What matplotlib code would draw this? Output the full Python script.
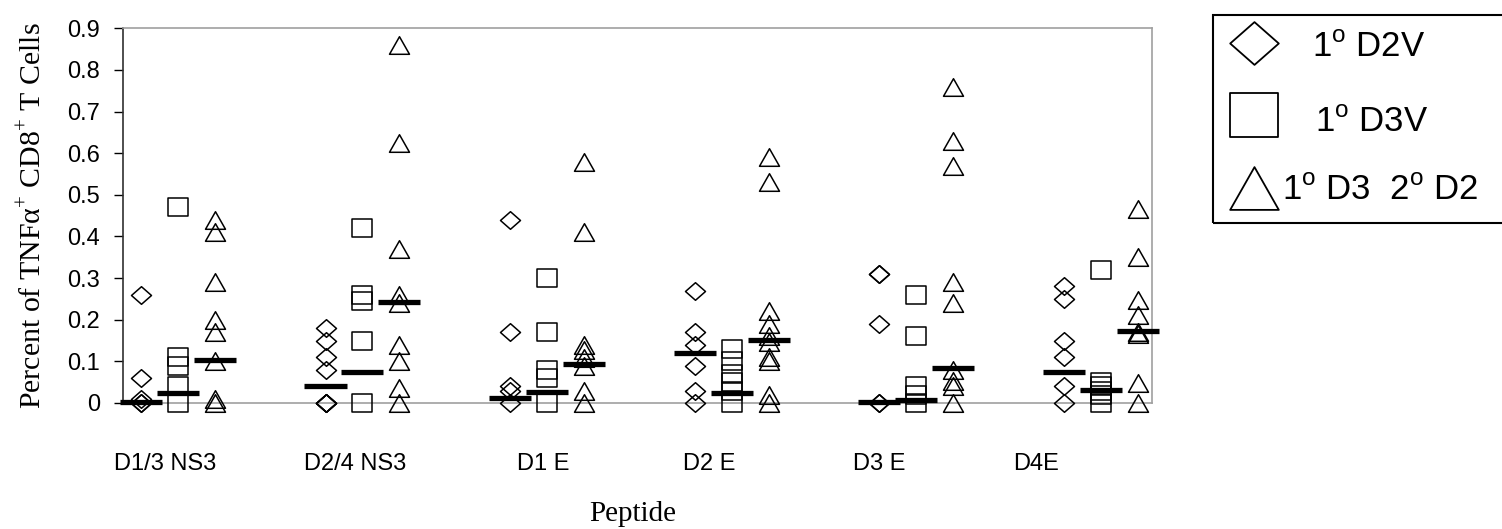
import numpy as np
import matplotlib.pyplot as plt
from matplotlib.path import Path
from matplotlib.lines import Line2D
from matplotlib.patches import Rectangle

plt.rcParams['mathtext.fontset'] = 'custom'
plt.rcParams['mathtext.rm'] = 'Liberation Serif'
plt.rcParams['mathtext.sf'] = 'Liberation Sans'

# peptides on the x axis
peptides = ['D1/3 NS3', 'D2/4 NS3', 'D1 E', 'D2 E', 'D3 E', 'D4E']

# percent TNFa+ CD8+ T cells per mouse, one list per peptide
d2v = [[0.26, 0.06, 0.01, 0.0, 0.0],
       [0.18, 0.15, 0.11, 0.08, 0.0, 0.0, 0.0, 0.0],
       [0.44, 0.17, 0.04, 0.03, 0.0],
       [0.27, 0.17, 0.14, 0.09, 0.03, 0.0],
       [0.31, 0.31, 0.19, 0.0, 0.0],
       [0.28, 0.25, 0.15, 0.11, 0.04, 0.0]]
d3v = [[0.47, 0.11, 0.09, 0.04, 0.0],
       [0.42, 0.26, 0.245, 0.15, 0.0],
       [0.30, 0.17, 0.08, 0.06, 0.0],
       [0.13, 0.10, 0.07, 0.05, 0.03, 0.0],
       [0.26, 0.16, 0.04, 0.02, 0.0],
       [0.32, 0.05, 0.04, 0.03, 0.02, 0.0]]
d3d2 = [[0.44, 0.41, 0.29, 0.20, 0.17, 0.10, 0.01, 0.0],
        [0.86, 0.625, 0.37, 0.26, 0.24, 0.14, 0.10, 0.035, 0.0],
        [0.58, 0.41, 0.14, 0.127, 0.107, 0.09, 0.03, 0.0],
        [0.59, 0.53, 0.22, 0.19, 0.16, 0.147, 0.11, 0.10, 0.018, 0.0],
        [0.76, 0.63, 0.57, 0.29, 0.24, 0.08, 0.054, 0.042, 0.0],
        [0.467, 0.35, 0.248, 0.211, 0.171, 0.165, 0.048, 0.0]]

# group medians (black bars)
d2v_med = [0.003, 0.04, 0.012, 0.119, 0.002, 0.075]
d3v_med = [0.024, 0.075, 0.026, 0.024, 0.006, 0.032]
d3d2_med = [0.103, 0.243, 0.093, 0.152, 0.083, 0.173]

# open marker shapes, slightly flatter than tall
diamond = Path([(-1, 0), (0, 0.88), (1, 0), (0, -0.88), (-1, 0)], closed=True)
square = Path([(-1, -0.9), (1, -0.9), (1, 0.9), (-1, 0.9), (-1, -0.9)], closed=True)
triangle = Path([(-1, -0.88), (1, -0.88), (0, 0.88), (-1, -0.88)], closed=True)

series = [(d2v, d2v_med, diamond, -0.2),
          (d3v, d3v_med, square, 0.0),
          (d3d2, d3d2_med, triangle, 0.2)]

fig = plt.figure(figsize=(15.02, 5.29), dpi=100)
ax = fig.add_axes([0.0819, 0.2382, 0.6851, 0.7083])

for values, med, shape, off in series:
    for i, vals in enumerate(values):
        xs = np.full(len(vals), i + off)
        ax.plot(xs, vals, linestyle='none', marker=shape, markersize=14.4,
                markerfacecolor='none', markeredgecolor='black',
                markeredgewidth=1.1, clip_on=False, zorder=3)
    xm = np.arange(len(med)) + off
    ax.hlines(med, xm - 0.114, xm + 0.114, colors='black', linewidth=3.8,
              zorder=4, clip_on=False)

ax.set_xlim(-0.297, 5.277)
ax.set_ylim(0, 0.9)
ax.set_yticks(np.arange(0, 0.91, 0.1))
ax.set_yticklabels(['0'] + ['%.1f' % v for v in np.arange(0.1, 0.91, 0.1)],
                   fontfamily='Liberation Sans', fontsize=17)
ax.tick_params(axis='y', length=6.5, width=1, pad=10, colors='black')

# peptide labels sit under each group
label_pos = [-0.07, 0.958, 1.982, 2.88, 3.801, 4.651]
ax.set_xticks(label_pos)
ax.set_xticklabels(peptides, fontfamily='Liberation Sans', fontsize=17)
ax.tick_params(axis='x', length=0, pad=36)

for side in ['top', 'right', 'bottom']:
    ax.spines[side].set_color('#a0a0a0')
    ax.spines[side].set_linewidth(1.2)
ax.spines['left'].set_color('#303030')
ax.spines['left'].set_linewidth(1.2)

ax.set_ylabel('Percent of TNFα$^{+}$ CD8$^{+}$ T Cells',
              fontfamily='Liberation Serif', fontsize=21.5)
ax.yaxis.set_label_coords(-0.074, 0.5)
ax.set_xlabel('Peptide', fontfamily='Liberation Serif', fontsize=21)
ax.xaxis.set_label_coords(0.495, -0.262)

# legend box, running off the right edge
W, H = 1502.0, 529.0
fig.add_artist(Rectangle((1213 / W, 1 - 223 / H), 320 / W, 208 / H,
                         transform=fig.transFigure, fill=False,
                         edgecolor='black', linewidth=1.5, clip_on=False))
legend_rows = [(diamond, 43, 1312, 57, '1$^{\\mathsf{o}}$ D2V'),
               (square, 115, 1315, 132, '1$^{\\mathsf{o}}$ D3V'),
               (triangle, 188, 1282, 200, '1$^{\\mathsf{o}}$ D3  2$^{\\mathsf{o}}$ D2')]
for shape, my, tx, ty, label in legend_rows:
    fig.add_artist(Line2D([1254 / W], [1 - my / H], transform=fig.transFigure,
                          linestyle='none', marker=shape, markersize=35,
                          markerfacecolor='none', markeredgecolor='black',
                          markeredgewidth=1.3))
    fig.text(tx / W, 1 - ty / H, label, fontfamily='Liberation Sans',
             fontsize=25, ha='left', va='baseline')

fig.savefig('out.png', dpi=100)
